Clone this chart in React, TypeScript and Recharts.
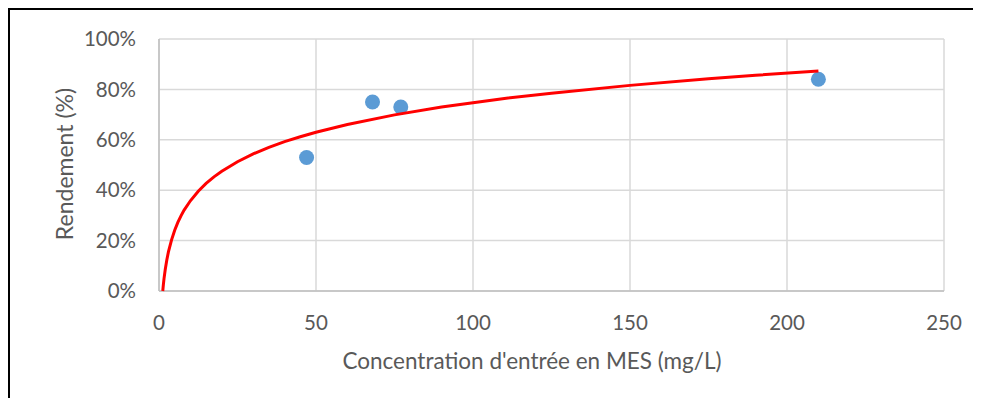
import { ScatterChart, Scatter, XAxis, YAxis, CartesianGrid } from 'recharts';

// measured points
const concentrations = [47, 68, 77, 210];
const rendements = [0.53, 0.75, 0.73, 0.84];

// trend line
const trendX = [1.2, 1.3, 1.4, 1.6, 2, 2.5, 3, 4, 5, 6, 7, 8, 10, 12.5, 15, 17.5, 20, 25, 30, 35, 40, 45, 50, 60, 75, 90, 100, 110, 125, 150, 175, 190, 210];
const trendY = [0, 0.0135, 0.026, 0.049, 0.086, 0.124, 0.155, 0.203, 0.241, 0.272, 0.298, 0.321, 0.358, 0.396, 0.427, 0.453, 0.475, 0.513, 0.544, 0.57, 0.593, 0.612, 0.63, 0.661, 0.699, 0.73, 0.747, 0.764, 0.785, 0.816, 0.842, 0.856, 0.873];

const xTicks = [0, 50, 100, 150, 200, 250];
const yTicks = [0, 0.2, 0.4, 0.6, 0.8, 1];

const points = concentrations.map((x, i) => ({ x, y: rendements[i] }));
const trend = trendX.map((x, i) => ({ x, y: trendY[i] }));

const FONT = 'Lato, "Open Sans", sans-serif';
const GREY = '#595959';

export default function App() {
  return (
    <div style={{ position: 'relative', width: 973, height: 390, fontFamily: FONT }}>
      {/* frame */}
      <div
        style={{
          position: 'absolute',
          left: 0,
          top: 0,
          width: 971,
          height: 388,
          borderTop: '2px solid #000',
          borderLeft: '2px solid #000',
        }}
      />
      <div style={{ position: 'absolute', left: 2, top: 2 }}>
        <ScatterChart width={971} height={388} margin={{ top: 29, right: 37, left: 0, bottom: 47 }}>
          <CartesianGrid stroke="#d9d9d9" strokeWidth={1.5} />
          <XAxis
            type="number"
            dataKey="x"
            domain={[0, 250]}
            ticks={xTicks}
            height={60}
            tickSize={0}
            tickMargin={24}
            axisLine={{ stroke: '#bfbfbf', strokeWidth: 1.5 }}
            tick={{ fill: GREY, fontSize: 20.5, fontFamily: FONT }}
          />
          <YAxis
            type="number"
            dataKey="y"
            domain={[0, 1]}
            ticks={yTicks}
            width={149}
            tickSize={0}
            tickMargin={23}
            axisLine={{ stroke: '#bfbfbf', strokeWidth: 1.5 }}
            tickFormatter={(v: number) => `${Math.round(v * 100)}%`}
            tick={{ fill: GREY, fontSize: 20.5, fontFamily: FONT }}
          />
          <Scatter
            data={points}
            isAnimationActive={false}
            shape={(p: any) => <circle cx={p.cx} cy={p.cy} r={7.5} fill="#5B9BD5" />}
          />
          <Scatter
            data={trend}
            isAnimationActive={false}
            line={{ stroke: '#ff0000', strokeWidth: 3 }}
            lineType="joint"
            shape={() => <g />}
          />
        </ScatterChart>
      </div>
      {/* axis titles */}
      <div
        style={{
          position: 'absolute',
          left: 524,
          top: 353,
          transform: 'translate(-50%, -50%)',
          whiteSpace: 'nowrap',
          fontSize: 22.5,
          lineHeight: 1,
          color: GREY,
        }}
      >
        Concentration d'entrée en MES (mg/L)
      </div>
      <div
        style={{
          position: 'absolute',
          left: 56,
          top: 156,
          transform: 'translate(-50%, -50%) rotate(-90deg)',
          whiteSpace: 'nowrap',
          fontSize: 23,
          lineHeight: 1,
          color: GREY,
        }}
      >
        Rendement (%)
      </div>
    </div>
  );
}
